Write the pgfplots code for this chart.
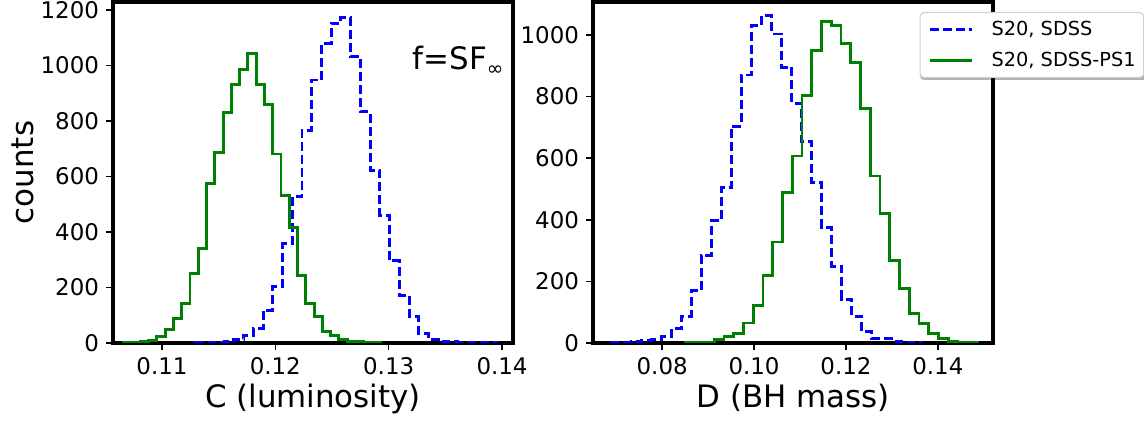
\documentclass[border=0pt]{standalone}
\usepackage{fontspec}
\setmainfont{DejaVu Sans}
\usepackage{pgfplots}
\pgfplotsset{compat=1.18}
\definecolor{mplgreen}{RGB}{0,128,0}
\definecolor{mplblue}{RGB}{0,0,255}
\tikzset{stepline/.style={const plot mark left, line width=1.45bp},
         dashedstep/.style={dash pattern=on 4.5bp off 2bp}}
\begin{document}
\begin{tikzpicture}
\useasboundingbox (0,0) rectangle (572bp,210.5bp);
% legend shadow (decoration)
\fill[black!30, rounded corners=2bp] (460bp,170.5bp) rectangle (575bp,202.5bp);
\pgfplotsset{
  every axis/.append style={
    scale only axis, width=200bp, height=170.5bp,
    axis line style={line width=1.6bp},
    tick align=outside, major tick length=3.5bp,
    every tick/.style={black, line width=0.8bp},
    xtick pos=bottom, ytick pos=left,
    ymin=0, scaled ticks=false,
    /pgf/number format/assume math mode=true,
    tick label style={font=\fontsize{11.5}{13}\selectfont},
    label style={font=\fontsize{15.5}{18}\selectfont},
    yticklabel style={/pgf/number format/1000 sep={}},
    xticklabel style={/pgf/number format/fixed, /pgf/number format/precision=2, /pgf/number format/fixed zerofill},
    xlabel style={at={(axis description cs:0.5,-0.189)}, anchor=base},
    legend image code/.code={\path[draw=none, fill=none] (0bp,-7.75bp) rectangle (31bp,7.75bp); \draw[#1, sharp corners] (0bp,0bp) -- (21bp,0bp);},
  },
}
\begin{axis}[at={(56.5bp,39bp)}, anchor=south west,
  xmin=0.10568, xmax=0.14097, ymax=1229,
  xtick={0.11,0.12,0.13,0.14}, ytick={0,200,...,1200},
  xlabel={C (luminosity)}, ylabel={counts},
  ylabel style={at={(axis description cs:-0.2,0.5)}, anchor=base}]
\addplot[stepline, dashedstep, mplblue, no marks] coordinates {
(0.11290,0) (0.11290,1) (0.11376,1) (0.11462,2) (0.11548,4) (0.11634,12)
(0.11720,28) (0.11806,52) (0.11892,118) (0.11978,204) (0.12064,358)
(0.12149,527) (0.12235,767) (0.12321,948) (0.12407,1080) (0.12493,1152)
(0.12579,1174) (0.12665,1034) (0.12751,833) (0.12837,621) (0.12923,461)
(0.13008,296) (0.13094,170) (0.13180,96) (0.13266,34) (0.13352,12)
(0.13438,7) (0.13524,4) (0.13610,2) (0.13696,2) (0.13781,1) (0.13867,1)
(0.13953,0)};
\addplot[stepline, mplgreen, no marks] coordinates {
(0.10663,0) (0.10663,1) (0.10736,2) (0.10809,4) (0.10882,10) (0.10955,24)
(0.11028,49) (0.11101,88) (0.11174,142) (0.11247,250) (0.11320,340)
(0.11393,575) (0.11466,686) (0.11539,830) (0.11612,933) (0.11685,987)
(0.11758,1042) (0.11831,933) (0.11904,861) (0.11977,681) (0.12050,533)
(0.12123,415) (0.12196,244) (0.12269,142) (0.12342,94) (0.12415,40)
(0.12488,28) (0.12561,12) (0.12634,7) (0.12707,4) (0.12780,2) (0.12853,1)
(0.12926,0)};
\node[anchor=base west, font=\fontsize{15.5}{18}\selectfont] at (rel axis cs:0.732,0.8006) {f=SF\raisebox{-0.35ex}{\fontsize{10}{10}\selectfont ∞}};
\end{axis}
\begin{axis}[at={(296.5bp,39bp)}, anchor=south west,
  xmin=0.06495, xmax=0.152, ymax=1107,
  xtick={0.08,0.10,0.12,0.14}, ytick={0,200,...,1000},
  xlabel={D (BH mass)},
  legend cell align=left,
  legend style={at={(1.378,0.9707)}, anchor=north east, draw=black!18, line width=0.6bp,
    rounded corners=2bp, fill=white,
    font=\fontsize{9.7}{11}\selectfont, nodes={inner sep=0bp, text depth=0.15em},
    inner xsep=4bp, inner ysep=0.75bp, row sep=0bp,
    /tikz/every even column/.style={column sep=0bp},
    /tikz/every odd column/.style={column sep=0bp},
    cells={anchor=west}}]
\addplot[stepline, dashedstep, mplblue, no marks] coordinates {
(0.06892,0) (0.06892,3) (0.07110,3) (0.07328,5) (0.07546,9) (0.07764,11)
(0.07982,20) (0.08200,47) (0.08418,87) (0.08636,171) (0.08854,285)
(0.09072,397) (0.09290,505) (0.09508,704) (0.09726,870) (0.09944,1030)
(0.10162,1062) (0.10380,1003) (0.10598,895) (0.10816,778) (0.11034,653)
(0.11252,520) (0.11470,374) (0.11688,249) (0.11906,142) (0.12124,87)
(0.12342,36) (0.12560,14) (0.12778,14) (0.12996,6) (0.13214,2) (0.13432,1)
(0.13650,0)};
\addlegendentry{S20, SDSS}
\addplot[stepline, mplgreen, no marks] coordinates {
(0.08496,0) (0.08496,1) (0.08708,1) (0.08920,3) (0.09133,11) (0.09345,20)
(0.09557,30) (0.09769,65) (0.09981,122) (0.10194,219) (0.10406,328)
(0.10618,488) (0.10830,607) (0.11042,803) (0.11255,949) (0.11467,1043)
(0.11679,1030) (0.11891,971) (0.12103,911) (0.12316,762) (0.12528,542)
(0.12740,420) (0.12952,267) (0.13164,177) (0.13377,95) (0.13589,63)
(0.13801,30) (0.14013,16) (0.14225,6) (0.14438,2) (0.14650,1)
(0.14862,0)};
\addlegendentry{S20, SDSS-PS1}
\end{axis}
\end{tikzpicture}
\end{document}
